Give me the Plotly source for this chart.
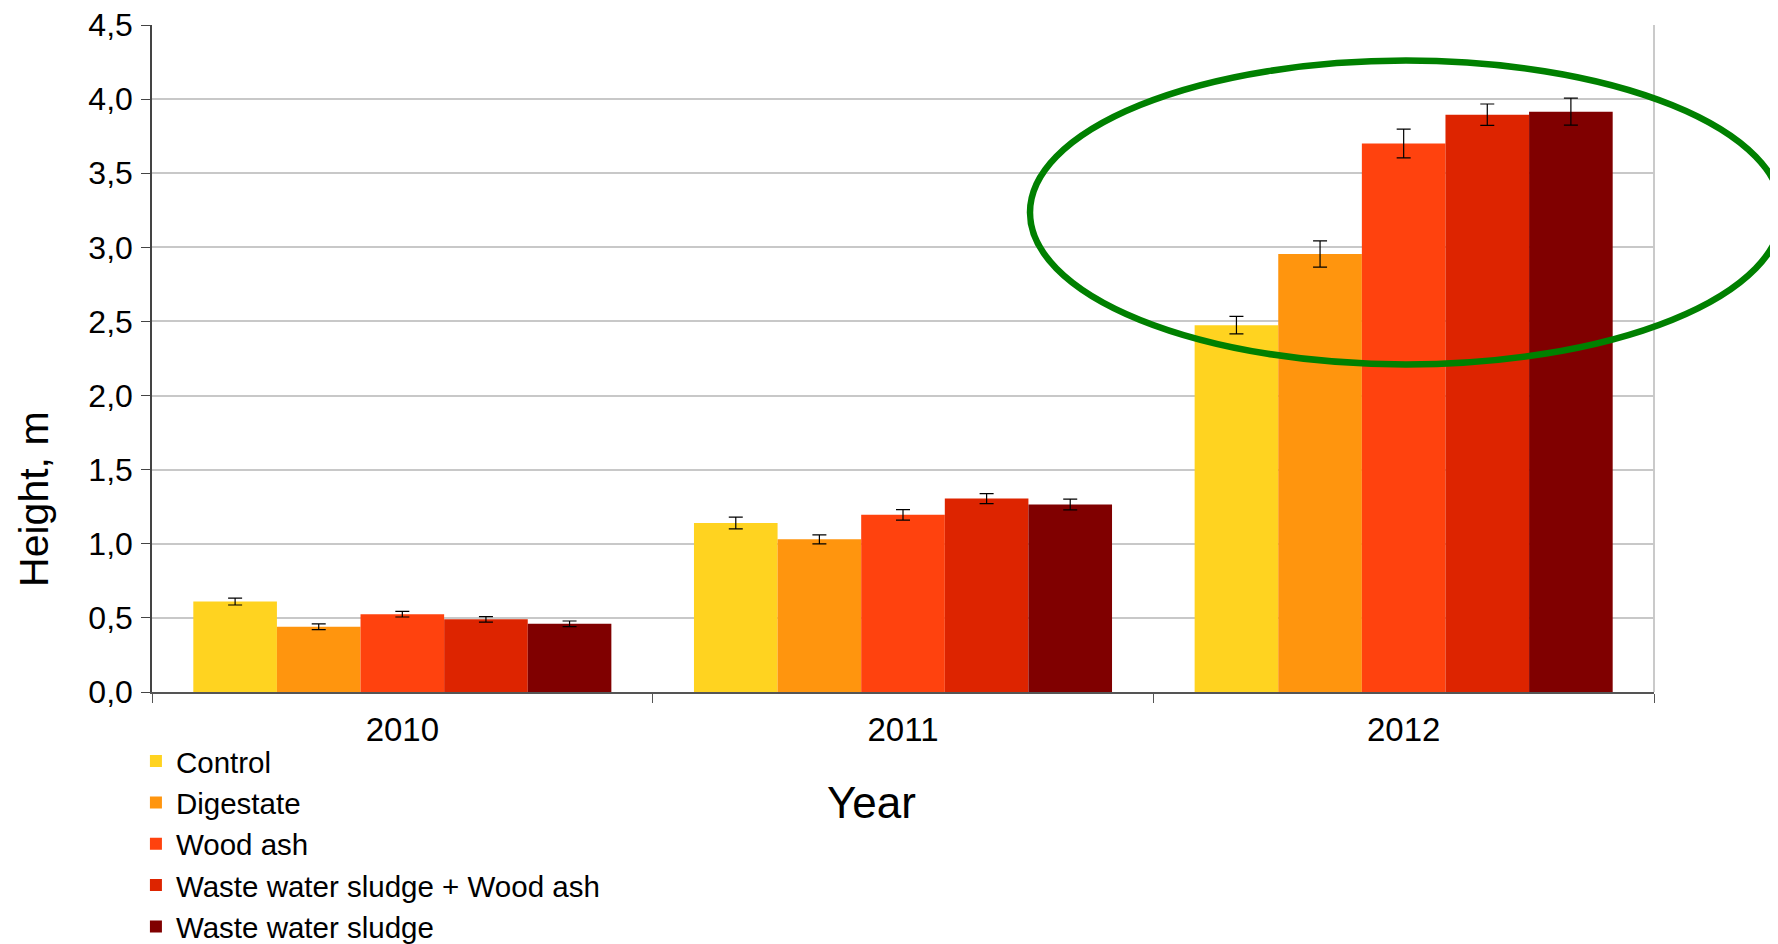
import plotly.graph_objects as go

years = ["2010", "2011", "2012"]
series_names = ["Control", "Digestate", "Wood ash", "Waste water sludge + Wood ash", "Waste water sludge"]
control = [0.61, 1.14, 2.475]
digestate = [0.44, 1.03, 2.955]
wood_ash = [0.525, 1.195, 3.70]
wws_wood_ash = [0.49, 1.305, 3.895]
wws = [0.46, 1.265, 3.915]
control_err = [0.023, 0.04, 0.059]
digestate_err = [0.019, 0.03, 0.089]
wood_ash_err = [0.019, 0.036, 0.097]
wws_wood_ash_err = [0.019, 0.034, 0.072]
wws_err = [0.019, 0.036, 0.091]
y_ticks = [0, 0.5, 1.0, 1.5, 2.0, 2.5, 3.0, 3.5, 4.0, 4.5]
y_tick_labels = ["0,0", "0,5", "1,0", "1,5", "2,0", "2,5", "3,0", "3,5", "4,0", "4,5"]
highlight_range = [2.21, 4.26]

colors = ["#FFD320", "#FF950E", "#FF420E", "#DD2400", "#800000"]
values = [control, digestate, wood_ash, wws_wood_ash, wws]
errors = [control_err, digestate_err, wood_ash_err, wws_wood_ash_err, wws_err]

FONT = "Liberation Sans, Arial, sans-serif"

fig = go.Figure()
for name, vals, errs, col in zip(series_names, values, errors, colors):
    fig.add_trace(go.Bar(
        x=years, y=vals, name=name,
        marker=dict(color=col, line=dict(width=0)),
        error_y=dict(type="data", array=errs, visible=True, color="black", thickness=1.2, width=7),
    ))

W, H = 1778, 944
ml, mr, mt, mb = 144, 132, 17, 260
ymax = 4.5
pw = W - ml - mr

fig.update_layout(
    width=W, height=H,
    margin=dict(l=ml, r=mr, t=mt, b=mb, autoexpand=False),
    paper_bgcolor="white", plot_bgcolor="white",
    barmode="group", bargap=0.165, bargroupgap=0,
    font=dict(family=FONT, color="black", size=32),
    showlegend=True,
    legend=dict(
        x=-0.0107, y=-0.065, xanchor="left", yanchor="top",
        orientation="v", font=dict(size=29.5, family=FONT),
        bgcolor="rgba(0,0,0,0)", itemclick=False,
        tracegroupgap=0,
    ),
    xaxis=dict(
        type="category", showgrid=False,
        showline=True, linecolor="#555555", linewidth=1.5,
        ticks="outside", tickson="boundaries", ticklen=9, tickcolor="#555555",
        tickfont=dict(size=33, family=FONT), ticklabelstandoff=8,
    ),
    yaxis=dict(
        range=[0, ymax], tickvals=y_ticks, ticktext=y_tick_labels,
        showgrid=True, gridcolor="#C8C8C8", gridwidth=1.5,
        showline=True, linecolor="#444444", linewidth=1.5,
        ticks="outside", ticklen=9, tickcolor="#444444",
        tickfont=dict(size=32, family=FONT), zeroline=False, ticklabelstandoff=2,
        ticklabeloverflow="allow",
    ),
    annotations=[
        dict(text="Year", xref="paper", yref="paper", x=0.4787, y=-0.1664,
             xanchor="center", yanchor="middle", showarrow=False,
             font=dict(size=44, family=FONT)),
        dict(text="Height, m", xref="paper", yref="paper", x=-0.0786, y=0.2894,
             xanchor="center", yanchor="middle", showarrow=False, textangle=-90,
             font=dict(size=41, family=FONT)),
    ],
    shapes=[
        dict(type="line", xref="paper", yref="paper", x0=1, x1=1, y0=0, y1=1,
             line=dict(color="#B8B8B8", width=1.5), layer="below"),
        dict(type="circle", xref="paper", yref="paper",
             x0=(1022 - ml) / pw, x1=(1774 - ml) / pw,
             y0=highlight_range[0] / ymax, y1=highlight_range[1] / ymax,
             line=dict(color="#008000", width=6.5), fillcolor="rgba(0,0,0,0)", layer="above"),
    ],
)

fig.write_html("out.html")
